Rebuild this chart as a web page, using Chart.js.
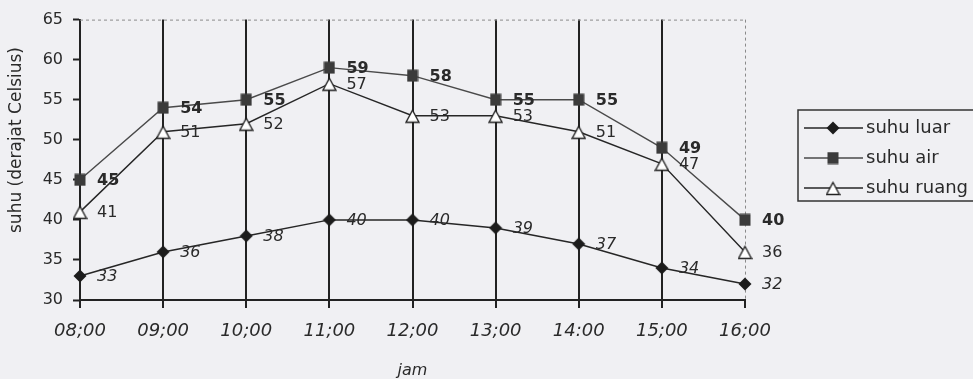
<!DOCTYPE html>
<html>
<head>
<meta charset="utf-8">
<script src="https://cdn.jsdelivr.net/npm/chart.js@4.4.1/dist/chart.umd.min.js"></script>
<style>
  html, body { margin: 0; padding: 0; background: #f0f0f3; }
  #wrap { width: 973px; height: 379px; }
</style>
</head>
<body>
<div id="wrap"><canvas id="c" width="973" height="379"></canvas></div>
<script>
// Hours of measurement
const hours = ['08;00', '09;00', '10;00', '11;00', '12;00', '13;00', '14:00', '15;00', '16;00'];
// Temperatures (°C)
const suhuLuar = [33, 36, 38, 40, 40, 39, 37, 34, 32];
const suhuAir = [45, 54, 55, 59, 58, 55, 55, 49, 40];
const suhuRuang = [41, 51, 52, 57, 53, 53, 51, 47, 36];
// Value axis range
const yMin = 30;
const yMax = 65;
const yStep = 5;
const yTitle = 'suhu (derajat Celsius)';

const FONT = '"DejaVu Sans", "Liberation Sans", Arial, sans-serif';
const INK = '#2a2a2a';

function marker(kind) {
  const c = document.createElement('canvas');
  const g = c.getContext('2d');
  if (kind === 'diamond') {
    c.width = 14; c.height = 14;
    g.fillStyle = '#1c1c1c';
    g.beginPath();
    g.moveTo(7, 0.5); g.lineTo(13.5, 7); g.lineTo(7, 13.5); g.lineTo(0.5, 7);
    g.closePath(); g.fill();
  } else if (kind === 'square') {
    c.width = 12; c.height = 13;
    g.fillStyle = '#3b3b3b';
    g.fillRect(0.5, 0.5, 11, 12);
  } else {
    c.width = 15; c.height = 16;
    g.fillStyle = '#ffffff';
    g.strokeStyle = '#222';
    g.lineWidth = 1.4;
    g.beginPath();
    g.moveTo(7.5, 2.5); g.lineTo(14, 14.5); g.lineTo(1, 14.5);
    g.closePath(); g.fill(); g.stroke();
  }
  return c;
}

const mDiamond = marker('diamond');
const mSquare = marker('square');
const mTriangle = marker('triangle');

const bgPlugin = {
  id: 'paper',
  beforeDraw(chart) {
    const { ctx, width, height } = chart;
    ctx.save();
    ctx.fillStyle = '#f0f0f3';
    ctx.fillRect(0, 0, width, height);
    ctx.restore();
  }
};

// Faint dashed frame: top edge and the last hour line; vertical axis title
const framePlugin = {
  id: 'frame',
  beforeDatasetsDraw(chart) {
    const { ctx, chartArea: a, scales } = chart;
    const xLast = scales.x.getPixelForValue(hours.length - 1);
    ctx.save();
    ctx.strokeStyle = '#8a8a8a';
    ctx.lineWidth = 1;
    ctx.setLineDash([3, 3]);
    ctx.beginPath();
    ctx.moveTo(a.left, a.top + 0.5);
    ctx.lineTo(xLast, a.top + 0.5);
    ctx.moveTo(xLast + 0.5, a.top);
    ctx.lineTo(xLast + 0.5, a.bottom);
    ctx.stroke();
    ctx.restore();

    ctx.save();
    ctx.translate(17, 140);
    ctx.rotate(-Math.PI / 2);
    ctx.font = '17px ' + FONT;
    ctx.fillStyle = INK;
    ctx.textAlign = 'center';
    ctx.textBaseline = 'middle';
    ctx.fillText(yTitle, 0, 0);
    ctx.restore();
  }
};

// Value labels beside each point
const valueLabels = {
  id: 'valueLabels',
  afterDatasetsDraw(chart) {
    const { ctx } = chart;
    ctx.save();
    chart.data.datasets.forEach((ds, di) => {
      const meta = chart.getDatasetMeta(di);
      ctx.font = ds.labelFont;
      ctx.fillStyle = INK;
      ctx.textAlign = 'left';
      ctx.textBaseline = 'middle';
      meta.data.forEach((pt, i) => {
        ctx.fillText(String(ds.data[i]), pt.x + 17, pt.y + 1);
      });
    });
    ctx.restore();
  }
};

// Boxed legend at the right
const boxLegend = {
  id: 'boxLegend',
  afterDraw(chart) {
    const { ctx } = chart;
    const left = 798, top = 110, rowH = 30;
    ctx.save();
    ctx.strokeStyle = '#333';
    ctx.lineWidth = 1.5;
    ctx.strokeRect(left, top, 200, 91);
    chart.data.datasets.forEach((ds, i) => {
      const y = top + 18 + i * rowH;
      ctx.strokeStyle = ds.borderColor;
      ctx.lineWidth = 1.5;
      ctx.setLineDash([]);
      ctx.beginPath();
      ctx.moveTo(804, y);
      ctx.lineTo(863, y);
      ctx.stroke();
      const img = ds.pointStyle;
      ctx.drawImage(img, 833 - img.width / 2, y - img.height / 2);
      ctx.font = '18px ' + FONT;
      ctx.fillStyle = INK;
      ctx.textAlign = 'left';
      ctx.textBaseline = 'middle';
      ctx.fillText(ds.label, 866, y);
    });
    ctx.restore();
  }
};

new Chart(document.getElementById('c'), {
  type: 'line',
  data: {
    labels: hours,
    datasets: [
      {
        label: 'suhu luar',
        data: suhuLuar,
        borderColor: '#262626',
        borderWidth: 1.5,
        pointStyle: mDiamond,
        pointRadius: 7,
        labelFont: 'italic 16px ' + FONT,
        clip: false
      },
      {
        label: 'suhu air',
        data: suhuAir,
        borderColor: '#4a4a4a',
        borderWidth: 1.4,
        pointStyle: mSquare,
        pointRadius: 7,
        labelFont: 'bold 16px ' + FONT,
        clip: false
      },
      {
        label: 'suhu ruang',
        data: suhuRuang,
        borderColor: '#262626',
        borderWidth: 1.4,
        pointStyle: mTriangle,
        pointRadius: 8,
        labelFont: '16px ' + FONT,
        clip: false
      }
    ]
  },
  options: {
    responsive: false,
    animation: false,
    layout: { padding: { left: 8, right: 228, top: 17, bottom: 0 } },
    plugins: {
      legend: { display: false },
      tooltip: { enabled: false }
    },
    scales: {
      x: {
        offset: false,
        grid: {
          color: (c) => c.index === hours.length - 1 ? 'rgba(0,0,0,0)' : '#222',
          lineWidth: 2,
          drawTicks: true,
          tickLength: 8,
          tickColor: '#222',
          tickWidth: 2
        },
        border: { display: true, color: '#222', width: 2 },
        ticks: {
          color: INK,
          font: { family: FONT, size: 18, style: 'italic' },
          padding: 13,
          maxRotation: 0,
          autoSkip: false
        },
        title: {
          display: true,
          text: 'jam',
          color: INK,
          font: { family: FONT, size: 16, style: 'italic', lineHeight: 1 },
          padding: { top: 0, bottom: 0 }
        },
        afterFit(scale) { scale.height = 79; }
      },
      y: {
        min: yMin,
        max: yMax,
        ticks: {
          stepSize: yStep,
          color: INK,
          font: { family: FONT, size: 16 },
          padding: 10
        },
        grid: {
          drawOnChartArea: false,
          drawTicks: true,
          tickLength: 7,
          tickColor: '#222',
          tickWidth: 2
        },
        border: { display: true, color: '#222', width: 2 },
        afterFit(scale) { scale.width = 72; }
      }
    }
  },
  plugins: [bgPlugin, framePlugin, valueLabels, boxLegend]
});
</script>
</body>
</html>
